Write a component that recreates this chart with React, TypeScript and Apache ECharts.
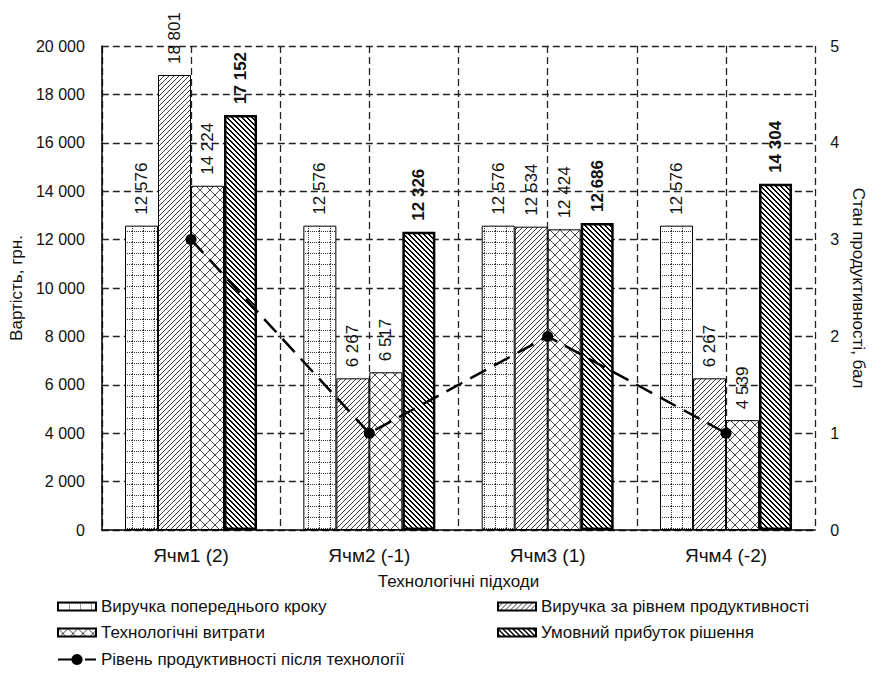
import React, { useEffect, useRef } from 'react';
import * as echarts from 'echarts';

// Category axis: technological approaches
const categories = ['Ячм1 (2)', 'Ячм2 (-1)', 'Ячм3 (1)', 'Ячм4 (-2)'];

// Bar series values, UAH
const prevStepRevenue = [12576, 12576, 12576, 12576];
const productivityRevenue = [18801, 6267, 12534, 6267];
const techCosts = [14224, 6517, 12424, 4539];
const conditionalProfit = [17152, 12326, 12686, 14304];

// Line series values, productivity score (right axis)
const productivityLevel = [3, 1, 2, 1];

const seriesNames = [
  'Виручка попереднього кроку',
  'Виручка за рівнем продуктивності',
  'Технологічні витрати',
  'Умовний прибуток рішення',
  'Рівень продуктивності після технології',
];

const FONT = "'Liberation Sans', Arial, sans-serif";

const fmt = (v: number) => String(v).replace(/\B(?=(\d{3})+(?!\d))/g, ' ');

type Painter = (ctx: CanvasRenderingContext2D, n: number) => void;

function tile(size: number, paint: Painter) {
  const c = document.createElement('canvas');
  c.width = size;
  c.height = size;
  const ctx = c.getContext('2d') as CanvasRenderingContext2D;
  ctx.fillStyle = '#ffffff';
  ctx.fillRect(0, 0, size, size);
  paint(ctx, size);
  return { image: c, repeat: 'repeat', imageWidth: size, imageHeight: size } as any;
}

// dotted square grid
const dottedGrid: Painter = (ctx, n) => {
  ctx.fillStyle = '#333';
  for (let i = 0; i < n; i += 2) {
    ctx.fillRect(i, 0, 1, 1);
    ctx.fillRect(0, i, 1, 1);
  }
};

// thin forward diagonal "/"
const lightSlash: Painter = (ctx, n) => {
  ctx.fillStyle = '#3a3a3a';
  for (let i = 0; i < n; i++) ctx.fillRect(i, n - 1 - i, 1, 1);
};

// diagonal cross hatch
const crossHatch: Painter = (ctx, n) => {
  ctx.fillStyle = '#4a4a4a';
  for (let i = 0; i < n; i++) {
    ctx.fillRect(i, i, 1, 1);
    ctx.fillRect(i, n - 1 - i, 1, 1);
  }
};

// heavy back diagonal "\"
const heavyBackslash: Painter = (ctx, n) => {
  ctx.fillStyle = '#000';
  for (let i = 0; i < n; i++) {
    ctx.fillRect(i, i, 1, 1);
    ctx.fillRect(i, (i + 1) % n, 1, 1);
  }
};

export default function App() {
  const ref = useRef<HTMLDivElement>(null);

  useEffect(() => {
    if (!ref.current) return;
    const chart = echarts.init(ref.current, null, { renderer: 'svg' });

    const fills = [
      tile(11, dottedGrid),
      tile(5, lightSlash),
      tile(10, crossHatch),
      tile(5, heavyBackslash),
    ];
    const barData = [prevStepRevenue, productivityRevenue, techCosts, conditionalProfit];

    const gridDash = { color: '#222', width: 1.3, type: [7, 4] as number[] };

    const barSeries = barData.map((vals, i) => ({
      name: seriesNames[i],
      type: 'bar',
      xAxisIndex: 0,
      yAxisIndex: 0,
      data: vals,
      barWidth: 33,
      barGap: '0%',
      itemStyle: {
        color: fills[i],
        borderColor: '#000',
        borderWidth: i === 3 ? 2.5 : 1,
      },
      label: {
        show: true,
        position: 'top',
        rotate: 90,
        align: 'left',
        verticalAlign: 'middle',
        distance: 11,
        fontFamily: FONT,
        fontSize: 17,
        fontWeight: i === 3 ? 'bold' : 'normal',
        color: '#111',
        formatter: (p: any) => fmt(p.value),
      },
      z: 2,
    }));

    const legendRows = [
      { name: seriesNames[0], left: 57, top: 598 },
      { name: seriesNames[1], left: 497, top: 598 },
      { name: seriesNames[2], left: 57, top: 624 },
      { name: seriesNames[3], left: 497, top: 624 },
      { name: seriesNames[4], left: 57, top: 651 },
    ];

    chart.setOption({
      animation: false,
      backgroundColor: '#ffffff',
      textStyle: { fontFamily: FONT },
      grid: { left: 100, right: 49, top: 46, bottom: 145, containLabel: false },
      legend: legendRows.map((r, i) => ({
        data: [r.name],
        left: r.left,
        top: r.top,
        padding: 0,
        icon: i === 4 ? undefined : 'rect',
        itemWidth: 38,
        itemHeight: i === 4 ? 14 : 8,
        textStyle: { fontFamily: FONT, fontSize: 17, color: '#111' },
      })),
      xAxis: [
        {
          type: 'category',
          data: categories,
          name: 'Технологічні підходи',
          nameLocation: 'middle',
          nameGap: 43,
          nameTextStyle: { fontFamily: FONT, fontSize: 17, color: '#111' },
          axisLine: { show: true, lineStyle: { color: '#000', width: 1.5 } },
          axisTick: { show: false },
          axisLabel: { fontFamily: FONT, fontSize: 19, color: '#111', margin: 16 },
          splitLine: { show: false },
        },
        {
          // half-category guides for the vertical grid
          type: 'value',
          min: 0,
          max: 8,
          interval: 1,
          position: 'top',
          axisLine: { show: false },
          axisTick: { show: false },
          axisLabel: { show: false },
          splitLine: { show: true, lineStyle: gridDash },
        },
      ],
      yAxis: [
        {
          type: 'value',
          min: 0,
          max: 20000,
          interval: 2000,
          name: 'Вартість, грн.',
          nameLocation: 'middle',
          nameGap: 74,
          nameRotate: 90,
          nameTextStyle: { fontFamily: FONT, fontSize: 17, color: '#111' },
          axisLine: { show: true, lineStyle: { color: '#000', width: 1.5 } },
          axisTick: { show: false },
          axisLabel: {
            fontFamily: FONT,
            fontSize: 16,
            color: '#111',
            margin: 17,
            formatter: (v: number) => fmt(v),
          },
          splitLine: { show: true, lineStyle: gridDash },
        },
        {
          type: 'value',
          min: 0,
          max: 5,
          interval: 1,
          position: 'right',
          name: 'Стан продуктивності, бал',
          nameLocation: 'middle',
          nameGap: 30,
          nameRotate: -90,
          nameTextStyle: { fontFamily: FONT, fontSize: 17, color: '#111' },
          axisLine: { show: false },
          axisTick: { show: false },
          axisLabel: { fontFamily: FONT, fontSize: 16, color: '#111', margin: 15 },
          splitLine: { show: false },
        },
      ],
      series: [
        ...barSeries,
        {
          name: seriesNames[4],
          type: 'line',
          xAxisIndex: 0,
          yAxisIndex: 1,
          data: productivityLevel,
          symbol: 'circle',
          symbolSize: 11,
          itemStyle: { color: '#000' },
          lineStyle: { color: '#000', width: 2.5, type: [18, 9] },
          z: 10,
        },
      ],
    });

    return () => chart.dispose();
  }, []);

  return (
    <div
      ref={ref}
      style={{ position: 'fixed', left: 0, top: 0, width: 875, height: 675, background: '#fff' }}
    />
  );
}
